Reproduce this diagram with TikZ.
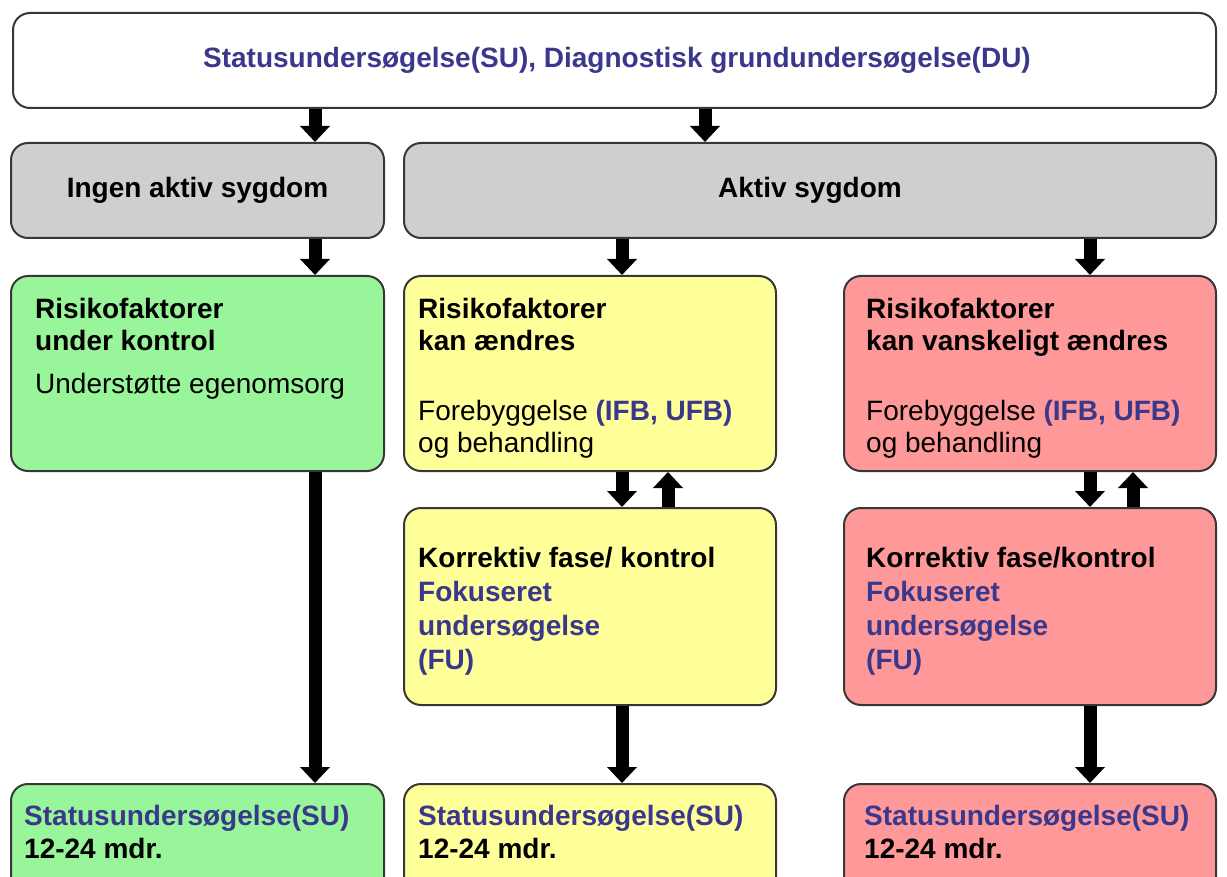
\documentclass[tikz,border=0pt]{standalone}
\usepackage{fontspec}
\setmainfont{Liberation Sans}
\usetikzlibrary{arrows.meta}
\definecolor{txtblue}{RGB}{58,56,140}
\definecolor{bordc}{RGB}{55,55,55}
\definecolor{grayf}{RGB}{207,207,207}
\definecolor{greenf}{RGB}{153,245,153}
\definecolor{yellowf}{RGB}{255,255,153}
\definecolor{redf}{RGB}{255,153,153}
\begin{document}
\begin{tikzpicture}[x=1pt,y=-1pt,
  box/.style={draw=bordc,line width=2pt,rounded corners=17pt,anchor=north west,inner sep=0pt},
  txt/.style={anchor=north west,inner sep=0pt,align=left,font=\fontsize{28}{32}\selectfont},
  ctxt/.style={inner sep=0pt,font=\fontsize{28}{32}\selectfont\bfseries},
  barrow/.style={line width=13pt,-{Triangle[length=16pt,width=29pt]}}]
\useasboundingbox (0,0) rectangle (1227,877);
\clip (0,0) rectangle (1227,877);
% boxes
\node[box,fill=white,minimum width=1203pt,minimum height=95pt] (top) at (12,12) {};
\node[box,fill=grayf,minimum width=373pt,minimum height=95pt] (ingen) at (10,142) {};
\node[box,fill=grayf,minimum width=812pt,minimum height=95pt] (aktiv) at (403,142) {};
\node[box,fill=greenf,minimum width=373pt,minimum height=195pt] (green) at (10,275) {};
\node[box,fill=yellowf,minimum width=372pt,minimum height=195pt] (yel) at (403,275) {};
\node[box,fill=redf,minimum width=372pt,minimum height=195pt] (red) at (843,275) {};
\node[box,fill=yellowf,minimum width=372pt,minimum height=197pt] (yelk) at (403,507) {};
\node[box,fill=redf,minimum width=372pt,minimum height=197pt] (redk) at (843,507) {};
\node[box,fill=greenf,minimum width=373pt,minimum height=130pt] (greenb) at (10,783) {};
\node[box,fill=yellowf,minimum width=372pt,minimum height=130pt] (yelb) at (403,783) {};
\node[box,fill=redf,minimum width=372pt,minimum height=130pt] (redb) at (843,783) {};
% texts
\node[ctxt,text=txtblue] (toptxt) at (617,60) {Statusundersøgelse(SU), Diagnostisk grundundersøgelse(DU)};
\node[ctxt] (ingentxt) at (ingen.center) {Ingen aktiv sygdom};
\node[ctxt] (aktivtxt) at (aktiv.center) {Aktiv sygdom};
\node[txt] (greentxt) at (35,298) {\textbf{Risikofaktorer}\\\textbf{under kontrol}\\[11pt]Understøtte egenomsorg};
\node[txt] (yeltxt) at (418,298) {\textbf{Risikofaktorer}\\\textbf{kan ændres}\\[38pt]Forebyggelse \textcolor{txtblue}{\textbf{(IFB, UFB)}}\\og behandling};
\node[txt] (redtxt) at (866,298) {\textbf{Risikofaktorer}\\\textbf{kan vanskeligt ændres}\\[38pt]Forebyggelse \textcolor{txtblue}{\textbf{(IFB, UFB)}}\\og behandling};
\node[txt,font=\fontsize{28}{34}\selectfont\bfseries] (yelktxt) at (418,547) {Korrektiv fase/ kontrol\\\textcolor{txtblue}{Fokuseret}\\\textcolor{txtblue}{undersøgelse}\\\textcolor{txtblue}{(FU)}};
\node[txt,font=\fontsize{28}{34}\selectfont\bfseries] (redktxt) at (866,547) {Korrektiv fase/kontrol\\\textcolor{txtblue}{Fokuseret}\\\textcolor{txtblue}{undersøgelse}\\\textcolor{txtblue}{(FU)}};
\node[txt,font=\fontsize{28}{33}\selectfont\bfseries] (greenbtxt) at (24,805) {\textcolor{txtblue}{Statusundersøgelse(SU)}\\12-24 mdr.};
\node[txt,font=\fontsize{28}{33}\selectfont\bfseries] (yelbtxt) at (418,805) {\textcolor{txtblue}{Statusundersøgelse(SU)}\\12-24 mdr.};
\node[txt,font=\fontsize{28}{33}\selectfont\bfseries] (redbtxt) at (864,805) {\textcolor{txtblue}{Statusundersøgelse(SU)}\\12-24 mdr.};
% arrow columns
\coordinate (xa) at (315,0);
\coordinate (xb) at (705,0);
\coordinate (xc) at (622,0);
\coordinate (xd) at (668,0);
\coordinate (xe) at (1090,0);
\coordinate (xf) at (1133,0);
% arrows
\draw[barrow] (top.south -| xa) -- (ingen.north -| xa);
\draw[barrow] (top.south -| xb) -- (aktiv.north -| xb);
\draw[barrow] (ingen.south -| xa) -- (green.north -| xa);
\draw[barrow] (aktiv.south -| xc) -- (yel.north -| xc);
\draw[barrow] (aktiv.south -| xe) -- (red.north -| xe);
\draw[barrow] (yel.south -| xc) -- (yelk.north -| xc);
\draw[barrow] (yelk.north -| xd) -- (yel.south -| xd);
\draw[barrow] (red.south -| xe) -- (redk.north -| xe);
\draw[barrow] (redk.north -| xf) -- (red.south -| xf);
\draw[barrow] (green.south -| xa) -- (greenb.north -| xa);
\draw[barrow] (yelk.south -| xc) -- (yelb.north -| xc);
\draw[barrow] (redk.south -| xe) -- (redb.north -| xe);
\end{tikzpicture}
\end{document}
